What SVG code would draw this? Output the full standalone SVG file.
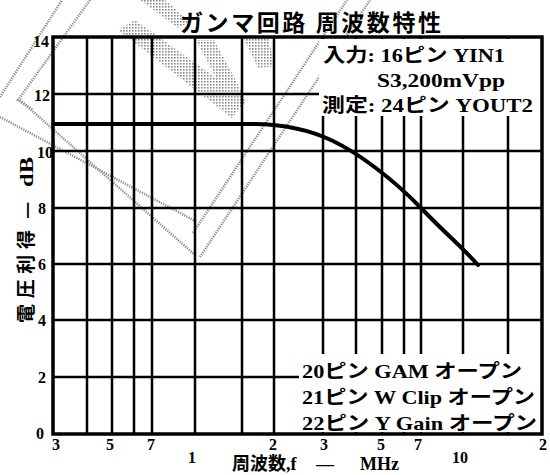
<svg xmlns="http://www.w3.org/2000/svg" width="550" height="475" viewBox="0 0 550 475">
<defs>
<pattern id="dots" width="3" height="3" patternUnits="userSpaceOnUse">
<rect width="3" height="3" fill="#fff"/>
<rect width="1.6" height="1.6" fill="#8a8a8a"/>
</pattern>
<style>
.grid{stroke:#000;stroke-width:2.5;fill:none}
.frame{stroke:#000;stroke-width:3.5;fill:none}
.curve{stroke:#000;stroke-width:4;fill:none;stroke-linecap:round}
.art{stroke:#8a8a8a;stroke-width:2.5;stroke-dasharray:1.2 1.2;fill:none}
.band{fill:url(#dots)}
.t{font-family:"Liberation Serif","Noto Sans CJK JP",serif;font-weight:bold;fill:#000}
.j{font-family:"Noto Sans CJK JP","Liberation Sans",sans-serif;font-weight:bold;fill:#000}
.tick{font-size:16px;text-anchor:middle}
.ylab{font-size:16px;text-anchor:end}
.leg{font-size:19px}
</style>
</defs>
<rect width="550" height="475" fill="#fff"/>
<g id="scan-artifacts">
<polygon class="band" points="118,30 135,20 247,100 232,118"/>
<polygon class="band" points="140,0 165,0 190,22 178,28"/>
<polygon class="band" points="196,40 214,40 242,92 226,96"/>
<polygon class="band" points="243,37 268,37 275,66 258,68"/>
<path class="art" d="M0,97 L62,0"/>
<path class="art" d="M90,0 L18,100 L33,110"/>
<path class="art" d="M0,117 L197,222"/>
<path class="art" d="M20,100 L195,255"/>
<path class="art" d="M193,233 L347,0"/>
<path class="art" d="M200,257 L370,0"/>
</g>
<g id="grid">
<path class="grid" d="M87,37V434 M112,37V434 M134,37V434 M152,37V434 M195,37V434 M242,37V434 M274,37V434 M323,37V434 M356,37V434 M382,37V434 M404,37V434 M421,37V434 M463,37V434 M508,37V434"/>
<path class="grid" d="M53,94H542 M53,151H542 M53,208H542 M53,264H542 M53,320H542 M53,377H542"/>
</g>
<g id="legend-masks">
<rect x="319" y="39" width="222" height="77" fill="#fff"/>
<rect x="299" y="354" width="242" height="78" fill="#fff"/>
</g>
<g id="curve">
<path class="curve" d="M53,124 L252,124 C278,124 308,129 333,141 S392,178 421,208 S460,245 478,265"/>
</g>
<g id="frame">
<rect class="frame" x="53" y="37" width="489" height="397"/>
</g>
<g id="title">
<text class="j" x="180" y="31" font-size="23" textLength="261" lengthAdjust="spacing">ガンマ回路 周波数特性</text>
</g>
<g id="legend-top">
<text class="t leg" x="323" y="62" textLength="182" lengthAdjust="spacingAndGlyphs">入力: 16ピン YIN1</text>
<text class="t leg" x="377" y="87" textLength="128" lengthAdjust="spacingAndGlyphs">S3,200mVpp</text>
<text class="t leg" x="322" y="112" textLength="211" lengthAdjust="spacingAndGlyphs">測定: 24ピン YOUT2</text>
</g>
<g id="legend-bottom">
<text class="t leg" x="302" y="378" textLength="220" lengthAdjust="spacingAndGlyphs">20ピン GAM オープン</text>
<text class="t leg" x="302" y="404" textLength="233" lengthAdjust="spacingAndGlyphs">21ピン W Clip オープン</text>
<text class="t leg" x="302" y="430" textLength="235" lengthAdjust="spacingAndGlyphs">22ピン Y Gain オープン</text>
</g>
<g id="y-axis">
<text class="t ylab" x="49" y="47">14</text>
<text class="t ylab" x="50" y="101">12</text>
<text class="t ylab" x="53" y="158">10</text>
<text class="t ylab" x="46" y="214">8</text>
<text class="t ylab" x="46" y="270">6</text>
<text class="t ylab" x="46" y="326">4</text>
<text class="t ylab" x="46" y="383">2</text>
<text class="t ylab" x="44" y="439">0</text>
<text class="j" font-size="19" transform="translate(33,323) rotate(-90)"><tspan x="0" textLength="93" lengthAdjust="spacing">電圧利得</tspan><tspan x="104">—</tspan><tspan class="t" x="136" textLength="30" lengthAdjust="spacingAndGlyphs">dB</tspan></text>
</g>
<g id="x-axis">
<text class="t tick" x="56" y="450">3</text>
<text class="t tick" x="110" y="450">5</text>
<text class="t tick" x="151" y="450">7</text>
<text class="t tick" x="192" y="463">1</text>
<text class="t tick" x="273" y="450">2</text>
<text class="t tick" x="324" y="450">3</text>
<text class="t tick" x="381" y="450">5</text>
<text class="t tick" x="418" y="450">7</text>
<text class="t tick" x="460" y="463">10</text>
<text class="t tick" x="543" y="450">2</text>
<text class="t" font-size="18" y="470"><tspan x="232">周波数,f</tspan><tspan x="316">—</tspan><tspan x="360">MHz</tspan></text>
</g>
</svg>
